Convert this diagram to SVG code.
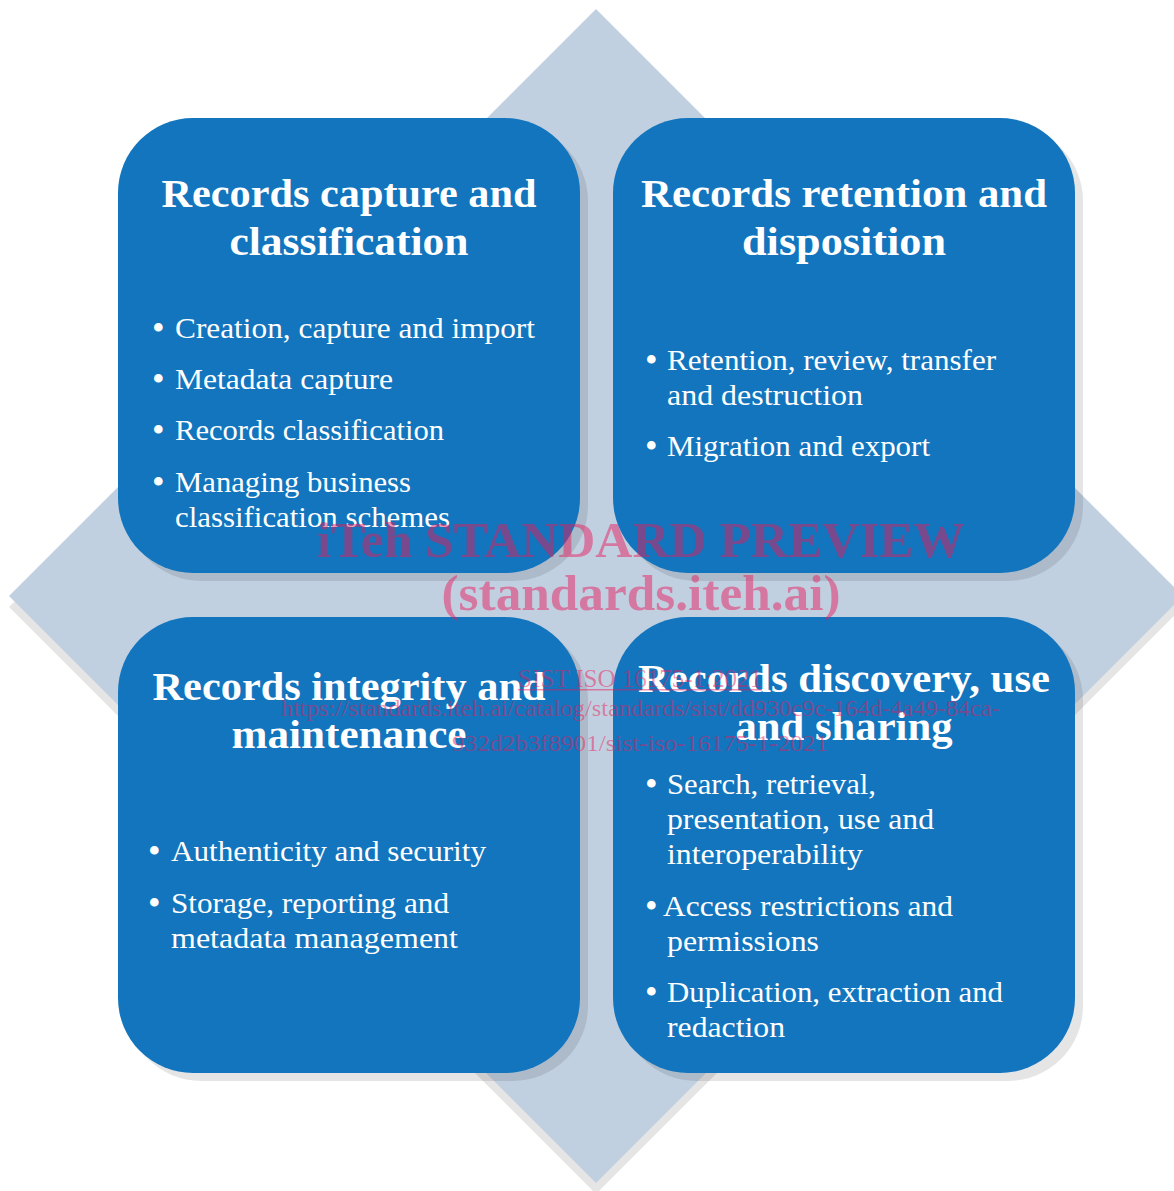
<svg xmlns="http://www.w3.org/2000/svg" width="1174" height="1191" viewBox="0 0 1174 1191">
<style>
.box{fill:#1275bd}
.shadow{fill:#000;fill-opacity:0.1}
.title{font-family:"Liberation Serif",serif;font-weight:bold;font-size:40px;fill:#fff;text-anchor:middle}
.item{font-family:"Liberation Serif",serif;font-size:30px;fill:#fff}
.bul{font-family:"Liberation Serif",serif;font-size:36px;fill:#fff}
.wm{font-family:"Liberation Serif",serif;fill:#ea1a5b;fill-opacity:0.48;text-anchor:middle}
</style>
<rect width="1174" height="1191" fill="#fff"/>
<g id="diamond">
<polygon class="shadow" points="596,20 1183,607 596,1194 9,607"/>
<polygon points="596,9 1183,596 596,1183 9,596" fill="#c1d0e0"/>
</g>
<g id="connectors"></g>
<g id="node-capture">
<rect class="shadow" x="126" y="126" width="462" height="455" rx="75"/>
<rect class="box" x="118" y="118" width="462" height="455" rx="75"/>
<text class="title" x="349" y="207" textLength="375" lengthAdjust="spacingAndGlyphs">Records capture and</text>
<text class="title" x="349" y="255" textLength="239" lengthAdjust="spacingAndGlyphs">classification</text>
<text class="bul" x="152" y="340">•</text>
<text class="item" x="175" y="338" textLength="360" lengthAdjust="spacingAndGlyphs">Creation, capture and import</text>
<text class="bul" x="152" y="391">•</text>
<text class="item" x="175" y="389" textLength="218" lengthAdjust="spacingAndGlyphs">Metadata capture</text>
<text class="bul" x="152" y="442">•</text>
<text class="item" x="175" y="440" textLength="269" lengthAdjust="spacingAndGlyphs">Records classification</text>
<text class="bul" x="152" y="494">•</text>
<text class="item" x="175" y="492" textLength="236" lengthAdjust="spacingAndGlyphs">Managing business</text>
<text class="item" x="175" y="527" textLength="275" lengthAdjust="spacingAndGlyphs">classification schemes</text>
</g>
<g id="node-retention">
<rect class="shadow" x="621" y="126" width="462" height="455" rx="75"/>
<rect class="box" x="613" y="118" width="462" height="455" rx="75"/>
<text class="title" x="844" y="207" textLength="406" lengthAdjust="spacingAndGlyphs">Records retention and</text>
<text class="title" x="844" y="255" textLength="204" lengthAdjust="spacingAndGlyphs">disposition</text>
<text class="bul" x="645" y="372">•</text>
<text class="item" x="667" y="370" textLength="329" lengthAdjust="spacingAndGlyphs">Retention, review, transfer</text>
<text class="item" x="667" y="405" textLength="196" lengthAdjust="spacingAndGlyphs">and destruction</text>
<text class="bul" x="645" y="458">•</text>
<text class="item" x="667" y="456" textLength="263" lengthAdjust="spacingAndGlyphs">Migration and export</text>
</g>
<g id="node-integrity">
<rect class="shadow" x="126" y="625" width="462" height="456" rx="75"/>
<rect class="box" x="118" y="617" width="462" height="456" rx="75"/>
<text class="title" x="349" y="700" textLength="393" lengthAdjust="spacingAndGlyphs">Records integrity and</text>
<text class="title" x="349" y="748" textLength="235" lengthAdjust="spacingAndGlyphs">maintenance</text>
<text class="bul" x="148" y="863">•</text>
<text class="item" x="171" y="861" textLength="315" lengthAdjust="spacingAndGlyphs">Authenticity and security</text>
<text class="bul" x="148" y="915">•</text>
<text class="item" x="171" y="913" textLength="278" lengthAdjust="spacingAndGlyphs">Storage, reporting and</text>
<text class="item" x="171" y="948" textLength="287" lengthAdjust="spacingAndGlyphs">metadata management</text>
</g>
<g id="node-discovery">
<rect class="shadow" x="621" y="625" width="462" height="456" rx="75"/>
<rect class="box" x="613" y="617" width="462" height="456" rx="75"/>
<text class="title" x="844" y="692" textLength="412" lengthAdjust="spacingAndGlyphs">Records discovery, use</text>
<text class="title" x="844" y="740" textLength="217" lengthAdjust="spacingAndGlyphs">and sharing</text>
<text class="bul" x="645" y="796">•</text>
<text class="item" x="667" y="794" textLength="209" lengthAdjust="spacingAndGlyphs">Search, retrieval,</text>
<text class="item" x="667" y="829" textLength="267" lengthAdjust="spacingAndGlyphs">presentation, use and</text>
<text class="item" x="667" y="864" textLength="196" lengthAdjust="spacingAndGlyphs">interoperability</text>
<text class="bul" x="645" y="918">•</text>
<text class="item" x="663" y="916" textLength="290" lengthAdjust="spacingAndGlyphs">Access restrictions and</text>
<text class="item" x="667" y="951" textLength="152" lengthAdjust="spacingAndGlyphs">permissions</text>
<text class="bul" x="645" y="1004">•</text>
<text class="item" x="667" y="1002" textLength="336" lengthAdjust="spacingAndGlyphs">Duplication, extraction and</text>
<text class="item" x="667" y="1037" textLength="118" lengthAdjust="spacingAndGlyphs">redaction</text>
</g>
<g id="watermark">
<text class="wm" x="641" y="557" font-size="51" font-weight="bold" textLength="648" lengthAdjust="spacingAndGlyphs">iTeh STANDARD PREVIEW</text>
<text class="wm" x="641" y="610" font-size="51" font-weight="bold" textLength="399" lengthAdjust="spacingAndGlyphs">(standards.iteh.ai)</text>
<text class="wm" x="640" y="687" font-size="25" textLength="244" lengthAdjust="spacingAndGlyphs">SIST ISO 16175-1:2021</text>
<rect x="518" y="689" width="244" height="1.5" fill="#ea1a5b" fill-opacity="0.48"/>
<text class="wm" x="640.5" y="716" font-size="24" textLength="719" lengthAdjust="spacingAndGlyphs">https://standards.iteh.ai/catalog/standards/sist/dd930c9c-164d-4a49-84ca-</text>
<text class="wm" x="640" y="751" font-size="24" textLength="376" lengthAdjust="spacingAndGlyphs">932d2b3f8901/sist-iso-16175-1-2021</text>
</g>
</svg>
